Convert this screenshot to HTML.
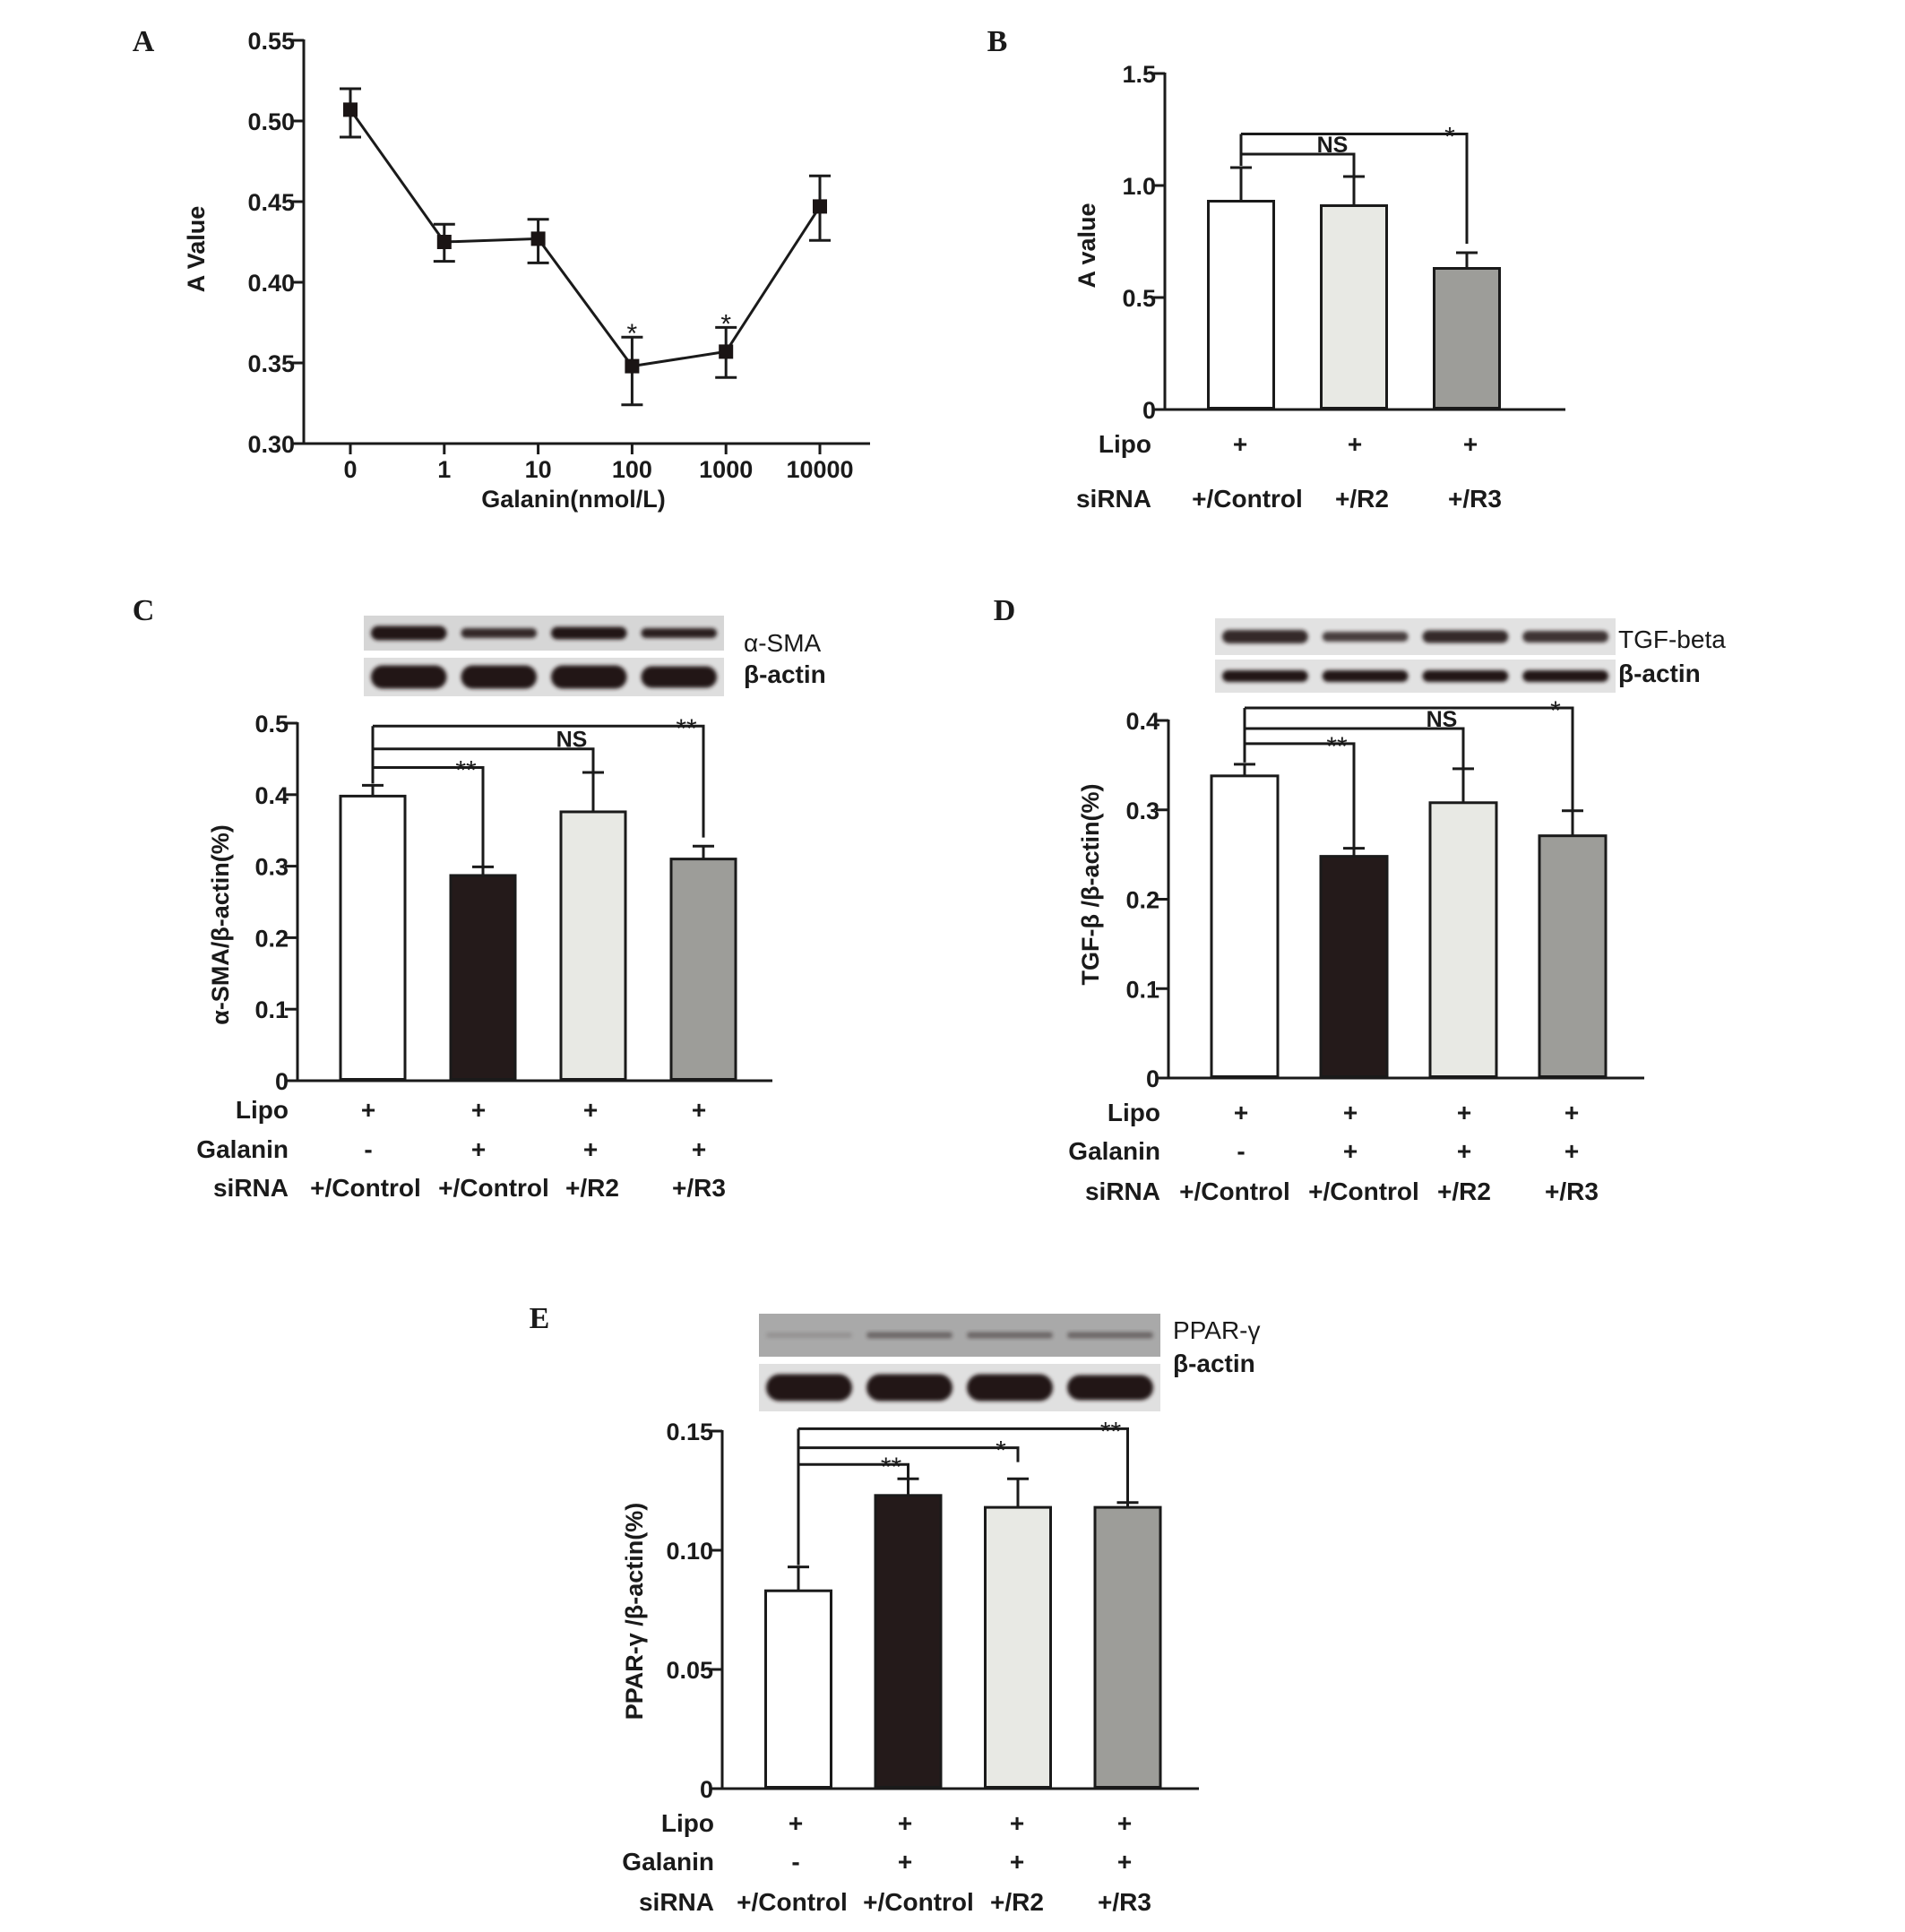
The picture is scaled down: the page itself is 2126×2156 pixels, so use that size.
<!DOCTYPE html>
<html><head><meta charset="utf-8"><style>
html,body{margin:0;padding:0;background:#fff}
svg{display:block}
text{font-family:"Liberation Sans",sans-serif;fill:#1a1a1a}
.tk{font-size:27px;font-weight:bold}
.row{font-size:28px;font-weight:bold}
.lt{font-family:"Liberation Serif",serif;font-size:34px;font-weight:bold}
.bl{font-size:28px}
.sig{font-size:25px;font-weight:bold}
.star{font-size:30px}
</style></head><body>
<svg id="fig" width="2126" height="2156" viewBox="0 0 2126 2156" xmlns="http://www.w3.org/2000/svg">
<defs><filter id="blur" x="-5%" y="-50%" width="110%" height="200%"><feGaussianBlur stdDeviation="2.2"/></filter></defs>
</svg>
<script>
// ---------- Panel A data ----------
const aCategories = ["0","1","10","100","1000","10000"];
const aValues = [0.507,0.425,0.427,0.348,0.357,0.447];
const aErrHi = [0.520,0.436,0.439,0.366,0.372,0.466];
const aErrLo = [0.490,0.413,0.412,0.324,0.341,0.426];
const aStars = ["","","","*","*",""];
const aTicks = [0.30,0.35,0.40,0.45,0.50,0.55];
const aTickLabels = ["0.30","0.35","0.40","0.45","0.50","0.55"];
// ---------- Panel B data ----------
const bValues = [0.93,0.91,0.63];
const bErr = [1.08,1.04,0.70];
const bTicks = [0,0.5,1.0,1.5];
const bTickLabels = ["0","0.5","1.0","1.5"];
const bBrLevels = [1.14,1.23];
const bBrTargets = [1,2];
const bBrEnds = [1.04,0.74];
const bBrLabels = ["NS","*"];
const bRowLipo = ["+","+","+"];
const bRowSi = ["+/Control","+/R2","+/R3"];
// ---------- Panel C data ----------
const cValues = [0.398,0.287,0.376,0.310];
const cErr = [0.413,0.299,0.431,0.328];
const cTicks = [0,0.1,0.2,0.3,0.4,0.5];
const cTickLabels = ["0","0.1","0.2","0.3","0.4","0.5"];
const cBrLevels = [0.438,0.464,0.496];
const cBrTargets = [1,2,3];
const cBrEnds = [0.299,0.431,0.340];
const cBrLabels = ["**","NS","**"];
// ---------- Panel D data ----------
const dValues = [0.338,0.248,0.308,0.271];
const dErr = [0.351,0.257,0.346,0.299];
const dTicks = [0,0.1,0.2,0.3,0.4];
const dTickLabels = ["0","0.1","0.2","0.3","0.4"];
const dBrLevels = [0.374,0.391,0.414];
const dBrTargets = [1,2,3];
const dBrEnds = [0.257,0.346,0.300];
const dBrLabels = ["**","NS","*"];
// ---------- Panel E data ----------
const eValues = [0.083,0.123,0.118,0.118];
const eErr = [0.093,0.130,0.130,0.120];
const eTicks = [0,0.05,0.10,0.15];
const eTickLabels = ["0","0.05","0.10","0.15"];
const eBrLevels = [0.136,0.143,0.151];
const eBrTargets = [1,2,3];
const eBrEnds = [0.130,0.137,0.120];
const eBrLabels = ["**","*","**"];
const rowLipo4 = ["+","+","+","+"];
const rowGal4 = ["-","+","+","+"];
const rowSi4 = ["+/Control","+/Control","+/R2","+/R3"];
const barFills = {w:"#ffffff",k:"#241a1a",l:"#e8e9e4",g:"#9d9d99"};

const svg = document.getElementById('fig');
const NS = "http://www.w3.org/2000/svg";
function mk(tag, attrs, parent){
  const e = document.createElementNS(NS, tag);
  for (const k in attrs) e.setAttribute(k, attrs[k]);
  (parent||svg).appendChild(e);
  return e;
}
function txt(s, x, y, cls, anchor, parent){
  const t = mk('text', {x:x, y:y, class:cls, 'text-anchor':anchor||'middle'}, parent);
  t.textContent = s;
  return t;
}
function grp(name){
  const g = mk('g', {});
  
  
  return g;
}
function yAxis(g, ax, y0, y1, v0, v1, ticks, labels){
  const sc = v => y0 + (v - v0) / (v1 - v0) * (y1 - y0);
  const l = mk('line', {x1:ax, x2:ax, y1:sc(v1)-1, y2:y0+1.5, stroke:'#1a1a1a','stroke-width':3}, g);
  
  
  ticks.forEach((t,i)=>{
    const y = sc(t);
    const tk = mk('line', {x1:ax-14, x2:ax, y1:y, y2:y, stroke:'#1a1a1a','stroke-width':3}, g);
    
    
    const tl = txt(labels[i], ax-10, y+10, 'tk', 'end', g);
    
    
  });
  return sc;
}

// ================= Panel A =================
(function(){
  const g = grp('panel-a');
  txt('A', 160, 57, 'lt', 'middle', g);
  const sc = yAxis(g, 339, 495, 45, 0.30, 0.55, aTicks, aTickLabels);
  const xa = mk('line', {x1:338, x2:971, y1:495, y2:495, stroke:'#1a1a1a','stroke-width':3}, g);
  
  
  const xs = i => 391 + i * 104.8;
  aCategories.forEach((c,i)=>{
    const tk = mk('line', {x1:xs(i), x2:xs(i), y1:495, y2:507, stroke:'#1a1a1a','stroke-width':3}, g);
    
    
    const t = txt(c, xs(i), 533, 'tk', 'middle', g);
    
    
  });
  const xt = txt('Galanin(nmol/L)', 640, 566, 'tk', 'middle', g);
  
  
  const yt = txt('A Value', 0, 0, 'tk', 'middle', g);
  yt.setAttribute('transform','translate(228,278) rotate(-90)');
  
  
  const pts = aValues.map((v,i)=>xs(i)+','+sc(v)).join(' ');
  const pl = mk('polyline', {points:pts, fill:'none', stroke:'#1a1a1a','stroke-width':3}, g);
  
  
  aValues.forEach((v,i)=>{
    const x = xs(i);
    const e = mk('path', {d:`M${x},${sc(aErrHi[i])}V${sc(aErrLo[i])}M${x-12},${sc(aErrHi[i])}H${x+12}M${x-12},${sc(aErrLo[i])}H${x+12}`, stroke:'#1a1a1a','stroke-width':3, fill:'none'}, g);
    
    
    const m = mk('rect', {x:x-8, y:sc(v)-8, width:16, height:16, fill:'#1a1414'}, g);
    
    
    if (aStars[i]) {
      const s = txt(aStars[i], x, sc(aErrHi[i])+6, 'star', 'middle', g);
      
      
    }
  });
})();

// ================= generic bar panel =================
function barPanel(o){
  const g = grp(o.name);
  const lt = txt(o.letter, o.letterX, o.letterY, 'lt', 'middle', g);
  
  
  const sc = yAxis(g, o.ax, o.y0, o.y1, 0, o.vmax, o.ticks, o.tickLabels);
  const xa = mk('line', {x1:o.ax-1, x2:o.xEnd, y1:o.y0, y2:o.y0, stroke:'#1a1a1a','stroke-width':3}, g);
  
  
  const yt = txt(o.yTitle, 0, 0, o.yTitleCls||'tk', 'middle', g);
  yt.setAttribute('transform',`translate(${o.yTitleX},${o.yTitleY}) rotate(-90)`);
  
  
  const cx = i => o.bx0 + i * o.bstep;
  o.values.forEach((v,i)=>{
    const x = cx(i), w = o.bw;
    const ey = sc(o.err[i]);
    const e = mk('path', {d:`M${x},${sc(v)}V${ey}M${x-12},${ey}H${x+12}`, stroke:'#1a1a1a','stroke-width':3, fill:'none'}, g);
    
    
    const r = mk('rect', {x:x-w/2, y:sc(v), width:w, height:o.y0-sc(v)-1.5, fill:barFills[o.fills[i]], stroke:'#1a1a1a','stroke-width':3}, g);
    
    
  });
  const lx = cx(0);
  const topLvl = Math.max(...o.brLevels);
  const lv = mk('line', {x1:lx, x2:lx, y1:sc(topLvl), y2:sc(o.err[0])-2, stroke:'#1a1a1a','stroke-width':3}, g);
  
  
  o.brLevels.forEach((lvl,k)=>{
    const rx = cx(o.brTargets[k]);
    const p = mk('path', {d:`M${lx},${sc(lvl)}H${rx}V${sc(o.brEnds[k])}`, stroke:'#1a1a1a','stroke-width':3, fill:'none'}, g);
    
    
    const lab = o.brLabels[k];
    const isNS = lab==='NS';
    const t = txt(lab, isNS? rx-24 : rx-19, sc(lvl)+(isNS?-2:13), isNS?'sig':'star', 'middle', g);
    
    
  });
  o.rows.forEach((row,ri)=>{
    const rl = txt(row.label, o.rowLabelX, row.y, 'row', 'end', g);
    
    
    row.items.forEach((s,i)=>{
      const x = row.xs ? row.xs[i] : cx(i);
      const t = txt(s, x, row.y, 'row', 'middle', g);
      
      
    });
  });
  if (o.blot){
    const b = o.blot;
    [[b.t1,b.t2,b.c1,b.int1],[b.b1,b.b2,b.c2,b.int2]].forEach((s,si)=>{
      const r = mk('rect', {x:b.x1, y:s[0], width:b.x2-b.x1, height:s[1]-s[0], fill:s[2]}, g);
      
      
      const lw = (b.x2-b.x1)/4;
      s[3].forEach((h,j)=>{
        const cy = (s[0]+s[1])/2;
        const band = mk('rect', {x:b.x1+lw*j+8, y:cy-h/2, width:lw-16, height:h, rx:h/2, fill:'#231616', opacity:si?1:b.op[j], filter:'url(#blur)'}, g);
        
        
      });
    });
    const l1 = txt(b.lab1, b.labX, b.lab1Y, 'bl', 'start', g);
    
    
    const l2 = txt('β-actin', b.labX, b.lab2Y, 'row', 'start', g);
    
    
  }
}

barPanel({name:'panel-b', letter:'B', letterX:1113, letterY:57, ax:1300, y0:457, y1:82, vmax:1.5,
  ticks:bTicks, tickLabels:bTickLabels, xEnd:1747, yTitle:'A value', yTitleX:1222, yTitleY:274,
  bx0:1385, bstep:126, bw:73, values:bValues, err:bErr, fills:['w','l','g'],
  brLevels:bBrLevels, brTargets:bBrTargets, brEnds:bBrEnds, brLabels:bBrLabels, rowLabelX:1285,
  rows:[{label:'Lipo', y:505, items:bRowLipo, xs:[1384,1512,1641]},{label:'siRNA', y:566, items:bRowSi, xs:[1392,1520,1646]}]});

barPanel({name:'panel-c', letter:'C', letterX:160, letterY:692, ax:332, y0:1206, y1:807, vmax:0.5,
  ticks:cTicks, tickLabels:cTickLabels, xEnd:862, yTitle:'α-SMA/β-actin(%)', yTitleX:255, yTitleY:1032,
  bx0:416, bstep:123, bw:72, values:cValues, err:cErr, fills:['w','k','l','g'],
  brLevels:cBrLevels, brTargets:cBrTargets, brEnds:cBrEnds, brLabels:cBrLabels, rowLabelX:322,
  rows:[{label:'Lipo', y:1248, items:rowLipo4, xs:[411,534,659,780]},{label:'Galanin', y:1292, items:rowGal4, xs:[411,534,659,780]},{label:'siRNA', y:1335, items:rowSi4, xs:[408,551,661,780]}],
  blot:{x1:406,x2:808,t1:687,t2:726,b1:734,b2:777,c1:'#d6d6d6',c2:'#dedede',int1:[16,11,14,11],int2:[26,26,26,24],op:[1,0.9,1,0.95],lab1:'α-SMA',labX:830,lab1Y:727,lab2Y:762}});

barPanel({name:'panel-d', letter:'D', letterX:1121, letterY:692, ax:1304, y0:1203, y1:804, vmax:0.4,
  ticks:dTicks, tickLabels:dTickLabels, xEnd:1835, yTitle:'TGF-β /β-actin(%)', yTitleX:1226, yTitleY:987,
  bx0:1389, bstep:122, bw:74, values:dValues, err:dErr, fills:['w','k','l','g'],
  brLevels:dBrLevels, brTargets:dBrTargets, brEnds:dBrEnds, brLabels:dBrLabels, rowLabelX:1295,
  rows:[{label:'Lipo', y:1251, items:rowLipo4, xs:[1385,1507,1634,1754]},{label:'Galanin', y:1294, items:rowGal4, xs:[1385,1507,1634,1754]},{label:'siRNA', y:1339, items:rowSi4, xs:[1378,1522,1634,1754]}],
  blot:{x1:1356,x2:1803,t1:690,t2:731,b1:736,b2:773,c1:'#e2e2e2',c2:'#e2e2e2',int1:[15,11,14,13],int2:[13,13,13,13],op:[0.9,0.8,0.9,0.85],lab1:'TGF-beta',labX:1806,lab1Y:723,lab2Y:761}});

barPanel({name:'panel-e', letter:'E', letterX:602, letterY:1482, ax:806, y0:1996, y1:1597, vmax:0.15,
  ticks:eTicks, tickLabels:eTickLabels, xEnd:1338, yTitle:'PPAR-γ /β-actin(%)', yTitleX:717, yTitleY:1798,
  bx0:891, bstep:122.5, bw:73, values:eValues, err:eErr, fills:['w','k','l','g'],
  brLevels:eBrLevels, brTargets:eBrTargets, brEnds:eBrEnds, brLabels:eBrLabels, rowLabelX:797,
  rows:[{label:'Lipo', y:2044, items:rowLipo4, xs:[888,1010,1135,1255]},{label:'Galanin', y:2087, items:rowGal4, xs:[888,1010,1135,1255]},{label:'siRNA', y:2132, items:rowSi4, xs:[884,1025,1135,1255]}],
  blot:{x1:847,x2:1295,t1:1466,t2:1514,b1:1522,b2:1575,c1:'#a9a9a9',c2:'#e0e0e0',int1:[6,7,7,7],int2:[30,30,30,28],op:[0.15,0.45,0.45,0.45],lab1:'PPAR-γ',labX:1309,lab1Y:1494,lab2Y:1531}});
</script>
</body></html>
